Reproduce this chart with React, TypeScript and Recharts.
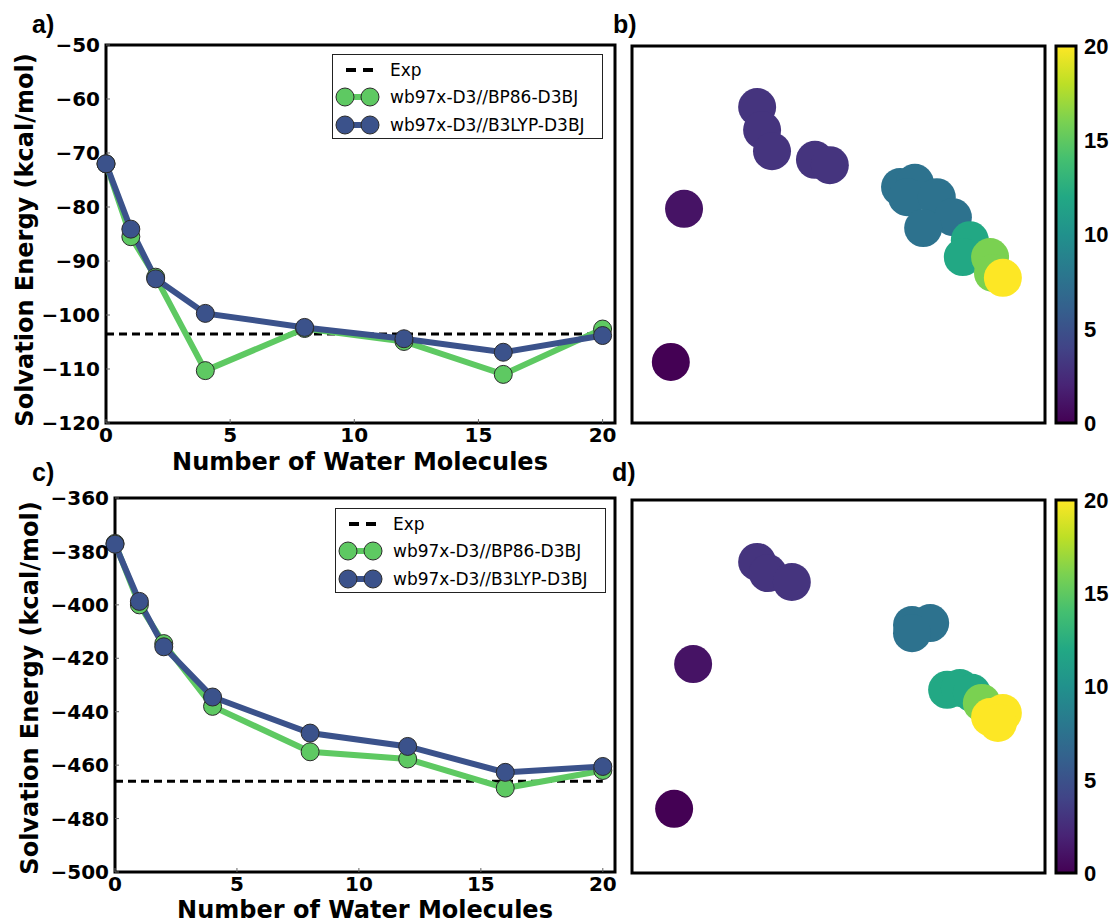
import {
  LineChart,
  Line,
  XAxis,
  YAxis,
  ReferenceLine,
  ReferenceArea,
  Legend,
  ScatterChart,
  Scatter,
  BarChart,
  Bar,
} from 'recharts';

// number of explicit water molecules (x of panels a and c)
const waters = [0, 1, 2, 4, 8, 12, 16, 20];

// panel a
const bp86A = [-72, -85.5, -93, -110.3, -102.5, -104.9, -111, -102.6];
const b3lypA = [-72, -84.1, -93.3, -99.7, -102.3, -104.4, -106.9, -103.8];
const expA = -103.5;
const yTicksA = [-120, -110, -100, -90, -80, -70, -60, -50];

// panel c
const bp86C = [-377, -400, -414.5, -438, -455, -457.7, -468.6, -462];
const b3lypC = [-377.3, -398.7, -415.7, -434.5, -448, -453, -462.7, -460.5];
const expC = -466;
const yTicksC = [-500, -480, -460, -440, -420, -400, -380, -360];

const xTicks = [0, 5, 10, 15, 20];
const cbTicks = [0, 5, 10, 15, 20];
const legendNames = ['Exp', 'wb97x-D3//BP86-D3BJ', 'wb97x-D3//B3LYP-D3BJ'];

// panel b map (arbitrary projection units, colour = value)
const mapBx = [9.4, 12.6, 30.3, 31.5, 33.9, 44.3, 47.9, 64.9, 68.5, 66.6, 73.8, 77.7, 70.5, 81.8, 80.1, 86.7, 87.4, 89.8];
const mapBy = [16.2, 56.8, 83.8, 77.7, 72.1, 69.8, 68.4, 62.6, 63.7, 59.9, 59.9, 54.6, 51.7, 48.5, 44.0, 44.0, 39.8, 38.5];
const mapBv = [0, 1, 3, 3, 3, 3, 3, 7.5, 7.5, 7.5, 7.5, 7.5, 7.5, 12, 12, 16, 16, 20];

// panel d map
const mapDx = [10.2, 14.8, 30.3, 32.9, 38.7, 67.8, 72.2, 67.8, 76.3, 79.4, 82.3, 84.7, 86.7, 89.8, 88.6];
const mapDy = [17.2, 56.0, 83.4, 80.4, 78.0, 66.5, 67.0, 64.3, 49.1, 49.6, 48.3, 45.6, 41.8, 42.9, 40.2];
const mapDv = [0, 1, 3, 3, 3, 7.5, 7.5, 7.5, 12, 12, 12, 16, 20, 20, 20];

const GREEN = '#5ec962';
const BLUE = '#3b528b';
const VIRIDIS = ['#440154', '#482475', '#414487', '#355f8d', '#2a788e', '#21918c', '#22a884', '#44bf70', '#7ad151', '#bddf26', '#fde725'];

function viridis(t: number) {
  const c = Math.max(0, Math.min(1, t)) * (VIRIDIS.length - 1);
  const i = Math.min(Math.floor(c), VIRIDIS.length - 2);
  const f = c - i;
  const a = VIRIDIS[i];
  const b = VIRIDIS[i + 1];
  const ch = (s: string, k: number) => parseInt(s.slice(1 + 2 * k, 3 + 2 * k), 16);
  const mix = [0, 1, 2].map((k) => Math.round(ch(a, k) + (ch(b, k) - ch(a, k)) * f));
  return `rgb(${mix.join(',')})`;
}

const minus = (v: any) => String(v).replace('-', '\u2212');

const tickFont = { fontFamily: 'DejaVu Sans', fontWeight: 'bold', fontSize: 20, fill: '#000' } as any;
const titleStyle: any = {
  position: 'absolute',
  fontFamily: 'DejaVu Sans',
  fontWeight: 'bold',
  fontSize: 24,
  lineHeight: 1,
  whiteSpace: 'nowrap',
  color: '#000',
};
const panelLabel: any = {
  position: 'absolute',
  fontFamily: 'Liberation Sans',
  fontWeight: 'bold',
  fontSize: 25,
  lineHeight: 1,
  color: '#000',
};

function LegendBox() {
  return (
    <div
      style={{
        width: 271,
        height: 85,
        border: '1px solid #222',
        background: '#fff',
        boxSizing: 'border-box',
        paddingTop: 1,
        fontFamily: 'DejaVu Sans',
        fontSize: 17,
        color: '#000',
      }}
    >
      {legendNames.map((name, i) => (
        <div key={name} style={{ display: 'flex', alignItems: 'center', height: 27.5 }}>
          <svg width={57} height={24} style={{ flex: 'none' }}>
            {i === 0 ? (
              <line x1={13} x2={41} y1={12} y2={12} stroke="#000" strokeWidth={4} strokeDasharray="10 7" />
            ) : (
              <g>
                <line x1={12} x2={37} y1={12} y2={12} stroke={i === 1 ? GREEN : BLUE} strokeWidth={6} />
                <circle cx={12} cy={12} r={9} fill={i === 1 ? GREEN : BLUE} stroke="#2b2b2b" strokeWidth={1} />
                <circle cx={37} cy={12} r={9} fill={i === 1 ? GREEN : BLUE} stroke="#2b2b2b" strokeWidth={1} />
              </g>
            )}
          </svg>
          <span>{name}</span>
        </div>
      ))}
    </div>
  );
}

type LineProps = {
  top: number;
  height: number;
  margin: { top: number; right: number; bottom: number; left: number };
  bp86: number[];
  b3lyp: number[];
  exp: number;
  yDomain: [number, number];
  yTicks: number[];
  legendLeft: number;
  legendTop: number;
};

function EnergyPanel(p: LineProps) {
  const rows = waters.map((n, i) => ({ n, bp86: p.bp86[i], b3lyp: p.b3lyp[i] }));
  return (
    <div style={{ position: 'absolute', left: 0, top: p.top }}>
      <LineChart width={620} height={p.height} data={rows} margin={p.margin}>
        <XAxis
          type="number"
          dataKey="n"
          domain={[0, 20.5]}
          ticks={xTicks}
          height={30}
          axisLine={false}
          tickLine={{ stroke: '#666' }}
          tickSize={-4}
          tickMargin={9}
          tick={tickFont}
        />
        <XAxis
          xAxisId="top"
          orientation="top"
          type="number"
          dataKey="n"
          domain={[0, 20.5]}
          ticks={xTicks}
          height={0}
          axisLine={false}
          tickLine={{ stroke: '#666' }}
          tickSize={-4}
          tick={false}
        />
        <YAxis
          type="number"
          domain={p.yDomain}
          ticks={p.yTicks}
          width={100}
          axisLine={false}
          tickLine={{ stroke: '#666' }}
          tickSize={-4}
          tickMargin={10}
          tick={tickFont}
          tickFormatter={minus}
        />
        <YAxis
          yAxisId="right"
          orientation="right"
          type="number"
          domain={p.yDomain}
          ticks={p.yTicks}
          width={0}
          axisLine={false}
          tickLine={{ stroke: '#666' }}
          tickSize={-4}
          tick={false}
        />
        <ReferenceLine
          segment={[{ x: 0, y: p.exp }, { x: 20, y: p.exp }]}
          stroke="#000"
          strokeWidth={3}
          strokeDasharray="8 5"
        />
        <Line
          dataKey="bp86"
          stroke={GREEN}
          strokeWidth={6}
          dot={{ r: 9, fill: GREEN, stroke: '#2b2b2b', strokeWidth: 1 }}
          activeDot={false}
          isAnimationActive={false}
        />
        <Line
          dataKey="b3lyp"
          stroke={BLUE}
          strokeWidth={6}
          dot={{ r: 9, fill: BLUE, stroke: '#2b2b2b', strokeWidth: 1 }}
          activeDot={false}
          isAnimationActive={false}
        />
        <ReferenceArea
          x1={0}
          x2={20.5}
          y1={p.yDomain[0]}
          y2={p.yDomain[1]}
          fill="none"
          fillOpacity={0}
          stroke="#000"
          strokeWidth={3}
        />
        <Legend
          layout="horizontal"
          verticalAlign="middle"
          align="center"
          content={() => <LegendBox />}
          wrapperStyle={{ left: p.legendLeft, top: p.legendTop, width: 271 }}
        />
      </LineChart>
    </div>
  );
}

function MapPanel({ top, height, mt, mb, xs, ys, vs }: any) {
  const pts = xs.map((x: number, i: number) => ({ x, y: ys[i], v: vs[i] }));
  return (
    <div style={{ position: 'absolute', left: 600, top }}>
      <ScatterChart width={450} height={height} margin={{ top: mt, right: 5, bottom: mb, left: 32 }}>
        <XAxis type="number" dataKey="x" domain={[0, 100]} hide />
        <YAxis type="number" dataKey="y" domain={[0, 100]} hide />
        <Scatter
          data={pts}
          isAnimationActive={false}
          shape={(s: any) => <circle cx={s.cx} cy={s.cy} r={19} fill={viridis(s.payload.v / 20)} />}
        />
        <ReferenceArea x1={0} x2={100} y1={0} y2={100} fill="none" fillOpacity={0} stroke="#000" strokeWidth={3} />
      </ScatterChart>
    </div>
  );
}

function ColorBar({ id, top, height, mt, mb }: any) {
  return (
    <div style={{ position: 'absolute', left: 1050, top }}>
      <BarChart
        width={64}
        height={height}
        data={[{ name: 'cb', top: 20 }]}
        margin={{ top: mt, right: 0, bottom: mb, left: 6 }}
        barCategoryGap={0}
      >
        <defs>
          <linearGradient id={id} x1="0" y1="1" x2="0" y2="0">
            {VIRIDIS.map((c, i) => (
              <stop key={c} offset={i / (VIRIDIS.length - 1)} stopColor={c} />
            ))}
          </linearGradient>
        </defs>
        <XAxis dataKey="name" hide />
        <YAxis
          orientation="right"
          type="number"
          domain={[0, 20]}
          ticks={cbTicks}
          width={38}
          axisLine={false}
          tickLine={false}
          tickSize={0}
          tickMargin={8}
          tick={{ fontFamily: 'Liberation Sans', fontWeight: 'bold', fontSize: 22, fill: '#000' }}
        />
        <Bar dataKey="top" fill={`url(#${id})`} stroke="#000" strokeWidth={3} isAnimationActive={false} />
      </BarChart>
    </div>
  );
}

export default function App() {
  return (
    <div style={{ position: 'absolute', left: 0, top: 0, width: 1114, height: 924, background: '#fff', overflow: 'hidden' }}>
      <EnergyPanel
        top={0}
        height={470}
        margin={{ top: 45, right: 5, bottom: 17, left: 6 }}
        bp86={bp86A}
        b3lyp={b3lypA}
        exp={expA}
        yDomain={[-120, -50]}
        yTicks={yTicksA}
        legendLeft={332}
        legendTop={54}
      />
      <EnergyPanel
        top={460}
        height={464}
        margin={{ top: 38, right: 5, bottom: 22, left: 15 }}
        bp86={bp86C}
        b3lyp={b3lypC}
        exp={expC}
        yDomain={[-500, -360]}
        yTicks={yTicksC}
        legendLeft={335}
        legendTop={48}
      />
      <MapPanel top={0} height={470} mt={46} mb={47} xs={mapBx} ys={mapBy} vs={mapBv} />
      <MapPanel top={460} height={464} mt={40} mb={51} xs={mapDx} ys={mapDy} vs={mapDv} />
      <ColorBar id="vir-b" top={0} height={470} mt={46} mb={47} />
      <ColorBar id="vir-d" top={460} height={464} mt={40} mb={51} />

      <div style={{ ...titleStyle, left: 25, top: 240, transform: 'translate(-50%, -50%) rotate(-90deg)' }}>
        Solvation Energy (kcal/mol)
      </div>
      <div style={{ ...titleStyle, left: 360, top: 462, transform: 'translate(-50%, -50%)' }}>
        Number of Water Molecules
      </div>
      <div style={{ ...titleStyle, left: 30, top: 688, transform: 'translate(-50%, -50%) rotate(-90deg)' }}>
        Solvation Energy (kcal/mol)
      </div>
      <div style={{ ...titleStyle, left: 365, top: 910, transform: 'translate(-50%, -50%)' }}>
        Number of Water Molecules
      </div>

      <div style={{ ...panelLabel, left: 32, top: 12 }}>a)</div>
      <div style={{ ...panelLabel, left: 613, top: 12 }}>b)</div>
      <div style={{ ...panelLabel, left: 32, top: 460 }}>c)</div>
      <div style={{ ...panelLabel, left: 612, top: 460 }}>d)</div>
    </div>
  );
}
